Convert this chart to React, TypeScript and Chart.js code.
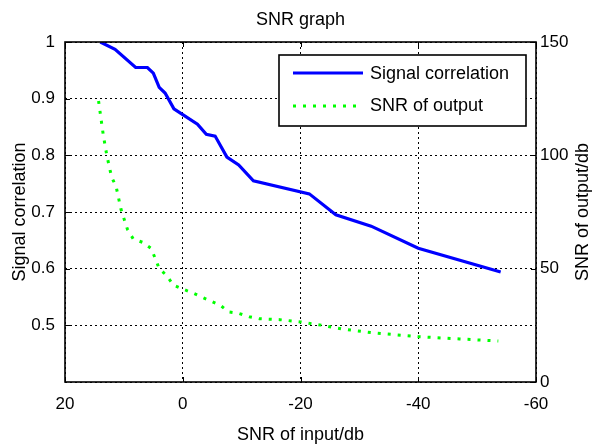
import { useEffect, useRef } from 'react';
import { Chart, registerables } from 'chart.js';

Chart.register(...registerables);

// Signal correlation (left axis) vs SNR of input
const corrX = [14, 11.5, 8, 6, 5, 4, 3, 1.5, 0, -2.5, -4, -5.5, -7.5, -9.5, -12, -21.5, -26, -32, -40, -54];
const corrY = [1.0, 0.987, 0.955, 0.955, 0.945, 0.92, 0.91, 0.882, 0.872, 0.855, 0.837, 0.834, 0.797, 0.783, 0.755, 0.732, 0.695, 0.675, 0.636, 0.594];

// SNR of output (right axis) vs SNR of input
const snrX = [14.3, 13.5, 12.9, 12.1, 11.3, 10.5, 9.4, 8.4, 6.8, 5.4, 4.7, 4.0, 2.7, 1.6, 0, -1.6, -3.2, -4.8, -6.4, -7.8, -9.5, -11.3, -13, -16.5, -20, -23.5, -27, -32, -40, -47, -53.6];
const snrY = [124, 109, 100, 90.6, 86, 76.3, 67.4, 63.1, 61.6, 59, 54.7, 50, 46.9, 42.8, 41, 39.4, 37.5, 35.7, 33.8, 30.9, 30.3, 28.8, 27.9, 27.5, 26.5, 25.1, 23.4, 21.8, 20, 19, 18.1];

const xTicks = [20, 0, -20, -40, -60];
const leftTicks = [0.5, 0.6, 0.7, 0.8, 0.9, 1];
const rightTicks = [0, 50, 100, 150];

const titleText = 'SNR graph';
const xTitle = 'SNR of input/db';
const yTitle = 'Signal correlation';
const y1Title = 'SNR of output/db';
const legendLabels = ['Signal correlation', 'SNR of output'];

const FONT = '"Liberation Sans", Arial, sans-serif';
const FS = 17;
const FL = 18;

const framePlugin = {
  id: 'frameAndText',
  afterDraw(chart: any) {
    const { ctx, chartArea: a, scales } = chart;
    ctx.save();
    // inward tick marks
    ctx.strokeStyle = '#000';
    ctx.lineWidth = 1;
    ctx.setLineDash([]);
    ctx.beginPath();
    for (const t of xTicks) {
      const px = Math.round(scales.x.getPixelForValue(t)) + 0.5;
      ctx.moveTo(px, a.bottom);
      ctx.lineTo(px, a.bottom - 5);
      ctx.moveTo(px, a.top);
      ctx.lineTo(px, a.top + 5);
    }
    for (const t of leftTicks) {
      const py = Math.round(scales.y.getPixelForValue(t)) + 0.5;
      ctx.moveTo(a.left, py);
      ctx.lineTo(a.left + 5, py);
    }
    for (const t of rightTicks) {
      const py = Math.round(scales.y1.getPixelForValue(t)) + 0.5;
      ctx.moveTo(a.right, py);
      ctx.lineTo(a.right - 5, py);
    }
    ctx.stroke();
    // frame
    ctx.lineWidth = 1.6;
    ctx.strokeRect(a.left, a.top, a.right - a.left, a.bottom - a.top);

    // titles
    ctx.fillStyle = '#000';
    ctx.font = `${FL}px ${FONT}`;
    ctx.textAlign = 'center';
    ctx.textBaseline = 'middle';
    const cx = (a.left + a.right) / 2;
    const cy = (a.top + a.bottom) / 2;
    ctx.fillText(titleText, cx, 20);
    ctx.fillText(xTitle, cx, 435);
    ctx.save();
    ctx.translate(20, cy);
    ctx.rotate(-Math.PI / 2);
    ctx.fillText(yTitle, 0, 0);
    ctx.restore();
    ctx.save();
    ctx.translate(583, cy);
    ctx.rotate(-Math.PI / 2);
    ctx.fillText(y1Title, 0, 0);
    ctx.restore();

    // legend
    const lx = 279, ly = 55, lw = 247, lh = 71;
    ctx.fillStyle = '#fff';
    ctx.fillRect(lx, ly, lw, lh);
    ctx.strokeStyle = '#000';
    ctx.lineWidth = 1.6;
    ctx.strokeRect(lx, ly, lw, lh);
    ctx.lineWidth = 3;
    ctx.strokeStyle = '#0000ff';
    ctx.beginPath();
    ctx.moveTo(293, 73);
    ctx.lineTo(363, 73);
    ctx.stroke();
    ctx.strokeStyle = '#00ff00';
    ctx.setLineDash([3, 7]);
    ctx.beginPath();
    ctx.moveTo(293, 106);
    ctx.lineTo(363, 106);
    ctx.stroke();
    ctx.setLineDash([]);
    ctx.fillStyle = '#000';
    ctx.textAlign = 'left';
    ctx.fillText(legendLabels[0], 370, 74);
    ctx.fillText(legendLabels[1], 370, 106);
    ctx.restore();
  },
};

export default function App() {
  const ref = useRef<HTMLCanvasElement>(null);
  useEffect(() => {
    if (!ref.current) return;
    const chart = new Chart(ref.current, {
      type: 'line',
      data: {
        datasets: [
          {
            label: legendLabels[0],
            data: corrX.map((x, i) => ({ x, y: corrY[i] })),
            borderColor: '#0000ff',
            borderWidth: 3.2,
            pointRadius: 0,
            tension: 0,
            yAxisID: 'y',
          },
          {
            label: legendLabels[1],
            data: snrX.map((x, i) => ({ x, y: snrY[i] })),
            borderColor: '#00ff00',
            borderWidth: 3,
            borderDash: [3, 7],
            borderCapStyle: 'butt',
            pointRadius: 0,
            tension: 0,
            yAxisID: 'y1',
          },
        ],
      },
      options: {
        animation: false,
        responsive: true,
        maintainAspectRatio: false,
        layout: { padding: { top: 42, left: 0, right: 0, bottom: 0 } },
        plugins: { legend: { display: false }, title: { display: false }, tooltip: { enabled: false } },
        scales: {
          x: {
            type: 'linear',
            position: 'bottom',
            min: -60,
            max: 20,
            reverse: true,
            afterBuildTicks: (s: any) => { s.ticks = xTicks.map((v) => ({ value: v })); },
            afterFit: (s: any) => { s.height = 66; },
            ticks: { color: '#000', font: { size: FS, family: FONT }, padding: 12, maxRotation: 0, callback: (v: any) => String(v) },
            grid: { color: '#000', lineWidth: 1, drawTicks: false },
            border: { display: false, dash: [2, 3] },
          },
          y: {
            type: 'linear',
            position: 'left',
            min: 0.4,
            max: 1,
            afterBuildTicks: (s: any) => { s.ticks = [0.4, ...leftTicks].map((v) => ({ value: v })); },
            afterFit: (s: any) => { s.width = 65; },
            ticks: {
              color: '#000',
              font: { size: FS, family: FONT },
              padding: 10,
              callback: (v: any) => (Math.abs(v - 0.4) < 1e-6 ? '' : String(+Number(v).toFixed(1))),
            },
            grid: { color: '#000', lineWidth: 1, drawTicks: false },
            border: { display: false, dash: [2, 3] },
          },
          y1: {
            type: 'linear',
            position: 'right',
            min: 0,
            max: 150,
            afterBuildTicks: (s: any) => { s.ticks = rightTicks.map((v) => ({ value: v })); },
            afterFit: (s: any) => { s.width = 67; },
            ticks: { color: '#000', font: { size: FS, family: FONT }, padding: 4 },
            grid: { display: false, drawTicks: false },
            border: { display: false },
          },
        },
      },
      plugins: [framePlugin],
    });
    return () => chart.destroy();
  }, []);
  return (
    <div style={{ position: 'fixed', left: 0, top: 0, width: 603, height: 448, background: '#fff' }}>
      <canvas ref={ref} />
    </div>
  );
}
